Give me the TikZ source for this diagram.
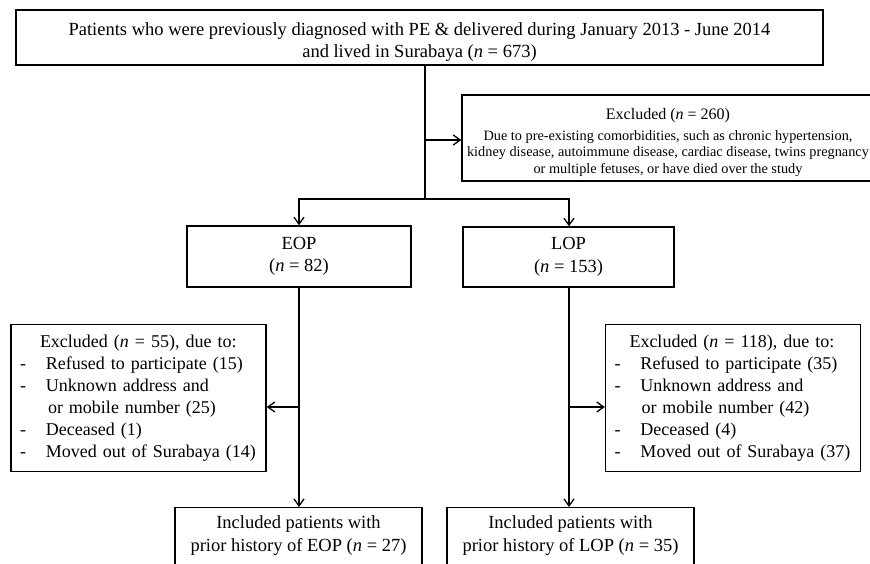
\documentclass[tikz,border=0pt]{standalone}
\usepackage{fontspec}
\setmainfont{Liberation Serif}
\usetikzlibrary{arrows.meta,positioning}

\newcommand{\itemdash}{\makebox[26pt][l]{-}}

\tikzset{
  box/.style={draw, line width=1.4pt, align=center, inner sep=0pt,
    font=\fontsize{18.5}{22.5}\selectfont},
  listbox/.style={box, align=left, inner xsep=9pt, text width=237pt,
    minimum height=147pt, font=\fontsize{18}{22}\selectfont},
  inbox/.style={box, minimum width=247pt, anchor=north, inner ysep=8pt,
    text depth=48pt},
  link/.style={line width=1.3pt},
}

\begin{document}
\begin{tikzpicture}[x=1pt, y=-1pt, >={Straight Barb[length=7pt,width=10pt]}]
    \useasboundingbox (0,0) rectangle (870,564);

    \node [box, minimum width=807pt, minimum height=55pt] (top) at (419.5,37.5)
        {\rule{0pt}{22pt}Patients who were previously diagnosed with PE \& delivered during January 2013 - June 2014\\
         and lived in Surabaya (\textit{n} = 673)};

    \node [box, minimum width=412pt, minimum height=86pt,
           font=\fontsize{14.3}{16.8}\selectfont] (exc) at (668,138)
        {{\fontsize{16}{19}\selectfont\rule{0pt}{20pt}Excluded (\textit{n} = 260)}\\[4pt]
         Due to pre-existing comorbidities, such as chronic hypertension,\\
         kidney disease, autoimmune disease, cardiac disease, twins pregnancy\\
         or multiple fetuses, or have died over the study};

    \node [box, minimum width=224pt, minimum height=61pt] (EOP) at (299,256.5) {EOP\\(\textit{n} = 82)};
    \node [box, minimum width=211pt, minimum height=60pt] (LOP) at (568.5,257) {LOP\\(\textit{n} = 153)};

    \node [listbox] (exEOP) at (138.5,398)
        {\hspace*{20pt}Excluded (\textit{n} = 55), due to:\\
         \itemdash Refused to participate (15)\\
         \itemdash Unknown address and\\
         \hspace*{28pt}or mobile number (25)\\
         \itemdash Deceased (1)\\
         \itemdash Moved out of Surabaya (14)};
    \node [listbox] (exLOP) at (733,398)
        {\hspace*{15pt}Excluded (\textit{n} = 118), due to:\\
         \itemdash Refused to participate (35)\\
         \itemdash Unknown address and\\
         \hspace*{27pt}or mobile number (42)\\
         \itemdash Deceased (4)\\
         \itemdash Moved out of Surabaya (37)};

    \node [inbox] (inEOP) at (298.5,507) {Included patients with\\prior history of EOP (\textit{n} = 27)};
    \node [inbox] (inLOP) at (570.5,507) {Included patients with\\prior history of LOP (\textit{n} = 35)};

    % split below the first box
    \coordinate (split) at (425,199);
    \coordinate (mE) at (299,407);
    \coordinate (mL) at (569,407);
    \coordinate (mX) at (425,140);

    \draw[link] (top.south -| split) -- (split);
    \draw[link, ->] (mX) -- (mX -| exc.west);
    \draw[link, ->] (split) -| (EOP.north);
    \draw[link, ->] (split) -| (mL |- LOP.north);

    \draw[link, ->] (EOP.south) -- (inEOP.north -| EOP.south);
    \draw[link, ->] (mL |- LOP.south) -- (mL |- inLOP.north);
    \draw[link, ->] (mE) -- (mE -| exEOP.east);
    \draw[link, ->] (mL) -- (mL -| exLOP.west);

\end{tikzpicture}
\end{document}
